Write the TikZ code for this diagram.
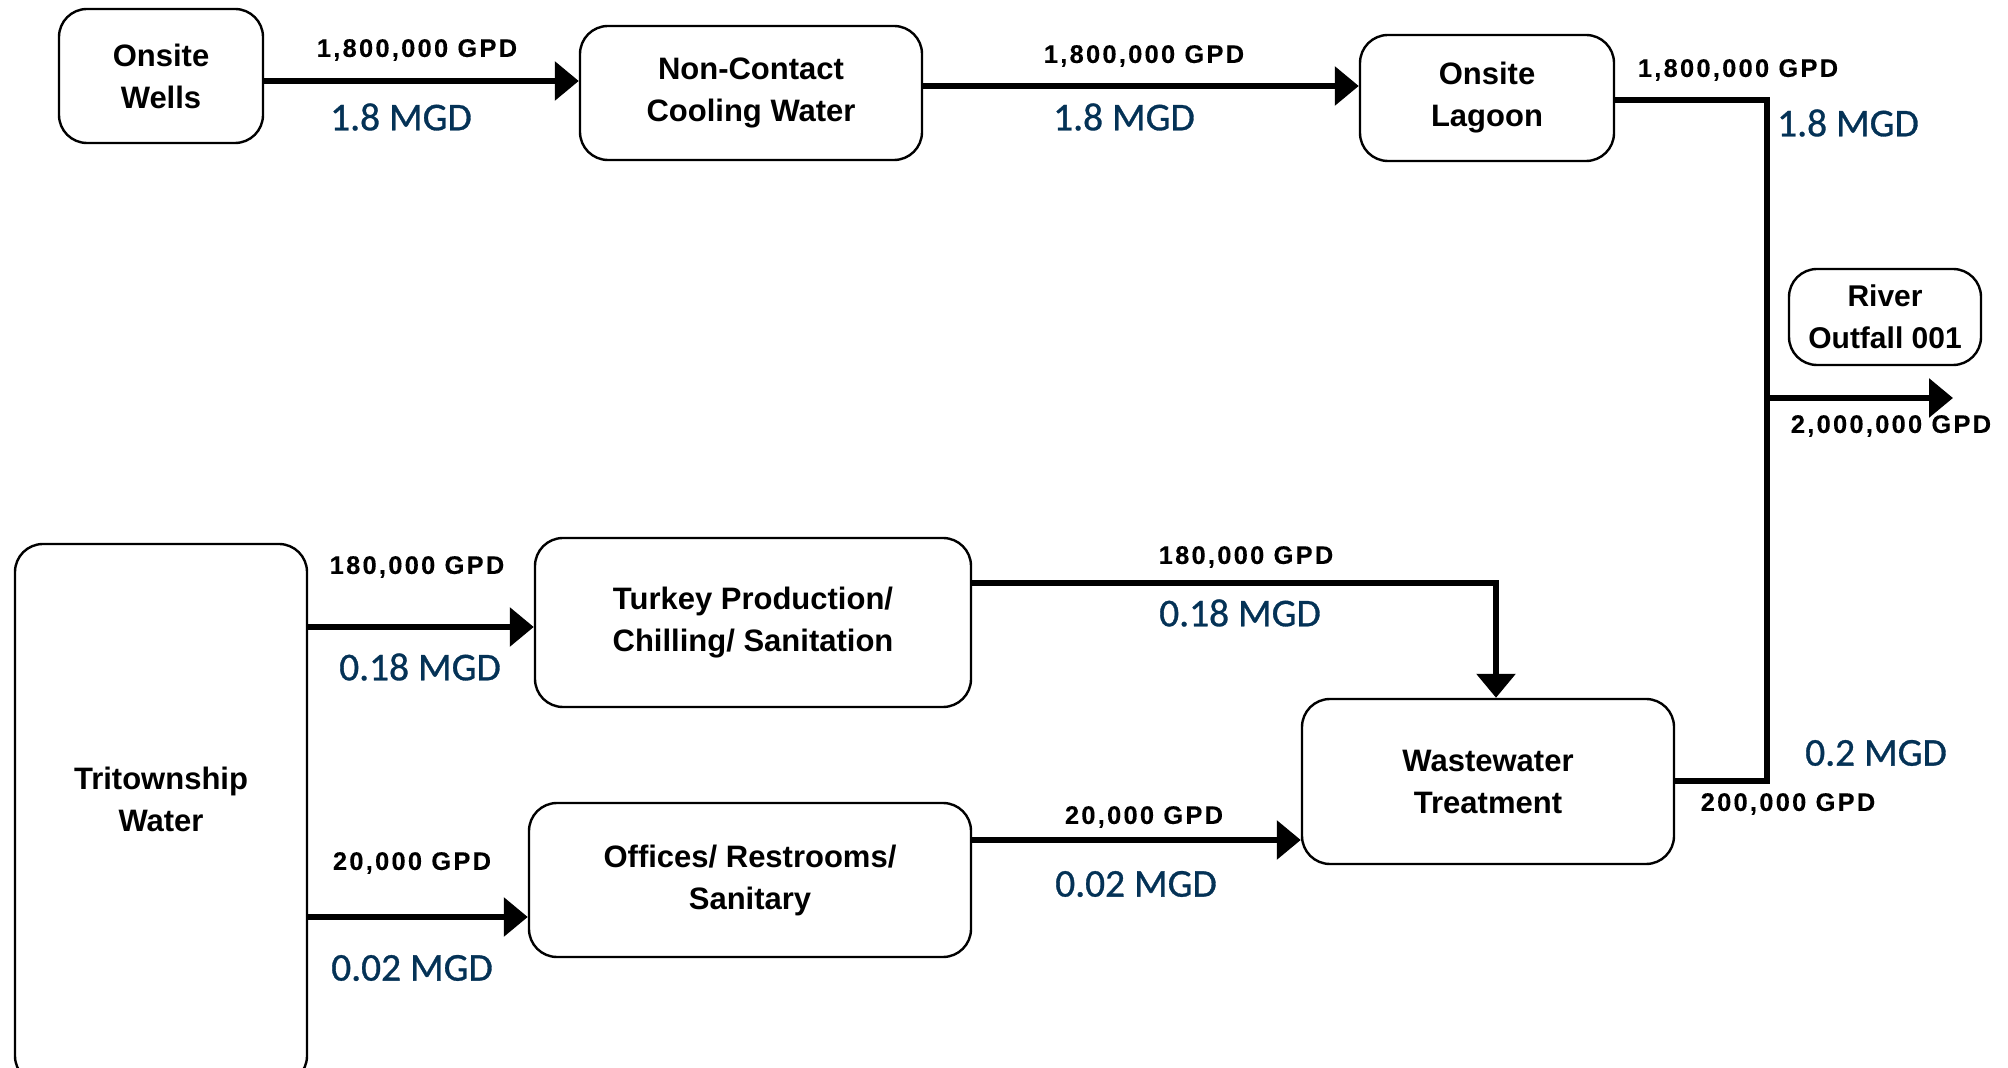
\documentclass[tikz,border=0pt]{standalone}
\usepackage{fontspec}
\setmainfont{Liberation Sans}
\newfontfamily\gpdfont[LetterSpace=9, FakeBold=0.3]{Liberation Sans}
\newfontfamily\mgdfont[FakeBold=0.8]{Carlito}
\usetikzlibrary{arrows.meta}
\definecolor{mgdblue}{RGB}{4,50,86}

\begin{document}
\begin{tikzpicture}[x=0.5pt, y=-0.5pt,
  unit/.style={draw, line width=1.2pt, rounded corners=14pt, align=center,
    font=\fontsize{15.5}{21}\selectfont\bfseries, inner sep=0pt},
  flow/.style={line width=3pt, -{Triangle[length=12pt, width=19pt]}},
  pipe/.style={line width=3pt, line join=miter},
  gpd/.style={font=\gpdfont\fontsize{12.7}{15}\selectfont\bfseries},
  mgd/.style={font=\mgdfont\fontsize{19.7}{23}\selectfont, text=mgdblue}]
\useasboundingbox[fill=white] (0,0) rectangle (2008,1068);

% upper line: wells -> cooling -> lagoon
\node[unit, minimum width=102pt, minimum height=67pt] (wells) at (161,76) {Onsite\\Wells};
\node[unit, minimum width=171pt, minimum height=67pt] (cooling) at (751,93) {Non-Contact\\Cooling Water};
\node[unit, minimum width=127pt, minimum height=63pt] (lagoon) at (1487,98) {Onsite\\Lagoon};
\node[unit, minimum width=96pt, minimum height=48pt, font=\fontsize{15}{21}\selectfont\bfseries] (outfall) at (1885,317) {River\\Outfall 001};

% lower line: tritownship -> process -> treatment
\node[unit, minimum width=146pt, minimum height=270pt] (tritownship) at (161,814) {};
\node[align=center, font=\fontsize{15.5}{21}\selectfont\bfseries] (tritownshiplabel) at (161,799) {Tritownship\\Water};
\node[unit, minimum width=218pt, minimum height=84.5pt] (turkey) at (753,622.5) {Turkey Production/\\Chilling/ Sanitation};
\node[unit, minimum width=221pt, minimum height=77pt] (offices) at (750,880) {Offices/ Restrooms/\\Sanitary};
\node[unit, minimum width=186pt, minimum height=82.5pt] (wwt) at (1488,781.5) {Wastewater\\Treatment};

\coordinate (jtop) at (1767,100);
\coordinate (jout) at (1767,398);
\coordinate (jbot) at (1767,781);
\coordinate (outend) at (1953,398);

\draw[flow] (wells.east |- 0,81) -- (cooling.west |- 0,81);
\draw[flow] (cooling.east |- 0,86) -- (lagoon.west |- 0,86);
\draw[pipe] (lagoon.east |- jtop) -- (jtop) -- (jbot) -- (wwt.east |- jbot);
\draw[flow] (jout) -- (outend);
\draw[flow] (tritownship.east |- 0,627) -- (turkey.west |- 0,627);
\draw[flow] (tritownship.east |- 0,917) -- (offices.west |- 0,917);
\draw[flow] (turkey.east |- 0,583) -| ([xshift=4pt]wwt.north);
\draw[flow] (offices.east |- 0,840) -- (wwt.west |- 0,840);

% flow rates
\node[gpd] (gpdwells) at (417,50) {1,800,000 GPD};
\node[gpd] (gpdcooling) at (1144,56) {1,800,000 GPD};
\node[gpd] (gpdlagoon) at (1738,70) {1,800,000 GPD};
\node[gpd] (gpdoutfall) at (1891,426) {2,000,000 GPD};
\node[gpd] (gpdturkeyin) at (417,567) {180,000 GPD};
\node[gpd] (gpdturkeyout) at (1246,557) {180,000 GPD};
\node[gpd] (gpdofficesin) at (412,863) {20,000 GPD};
\node[gpd] (gpdofficesout) at (1144,817) {20,000 GPD};
\node[gpd] (gpdwwt) at (1788,804) {200,000 GPD};

\node[mgd] (mgdwells) at (401,117) {1.8 MGD};
\node[mgd] (mgdcooling) at (1124,117) {1.8 MGD};
\node[mgd] (mgdlagoon) at (1848,123) {1.8 MGD};
\node[mgd] (mgdturkeyin) at (420,667) {0.18 MGD};
\node[mgd] (mgdturkeyout) at (1240,613) {0.18 MGD};
\node[mgd] (mgdofficesin) at (412,968) {0.02 MGD};
\node[mgd] (mgdofficesout) at (1136,884) {0.02 MGD};
\node[mgd] (mgdwwt) at (1876,753) {0.2 MGD};
\end{tikzpicture}
\end{document}
